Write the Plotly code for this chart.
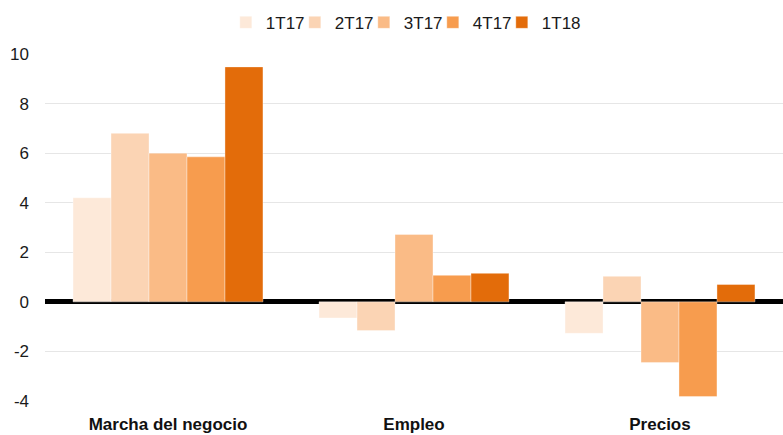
import plotly.graph_objects as go

categories = ["Marcha del negocio", "Empleo", "Precios"]
series_names = ["1T17", "2T17", "3T17", "4T17", "1T18"]
values_1T17 = [4.2, -0.65, -1.27]
values_2T17 = [6.8, -1.16, 1.03]
values_3T17 = [6.0, 2.72, -2.45]
values_4T17 = [5.85, 1.07, -3.82]
values_1T18 = [9.48, 1.15, 0.70]
y_ticks = [-4, -2, 0, 2, 4, 6, 8, 10]
y_tick_labels = ["-4", "-2", "0", "2", "4", "6", "8", "10"]

colors = ["#FDE9D9", "#FBD4B4", "#FABB86", "#F79C4E", "#E36C0A"]
series_values = [values_1T17, values_2T17, values_3T17, values_4T17, values_1T18]

fig = go.Figure()
for name, vals, col in zip(series_names, series_values, colors):
    fig.add_trace(go.Bar(
        name=name, x=categories, y=vals,
        marker=dict(color=col, line=dict(color="rgba(255,255,255,0.6)", width=0.6)),
    ))
# invisible legend spacer so the last legend label is not clipped
fig.add_trace(go.Scatter(x=[None], y=[None], mode="markers", name=" ",
                         marker=dict(color="rgba(0,0,0,0)"), hoverinfo="skip"))

font_family = "Liberation Sans, Arial, sans-serif"
fig.update_layout(
    width=783, height=435,
    margin=dict(l=45, r=0, t=54, b=34, autoexpand=False),
    paper_bgcolor="white", plot_bgcolor="white",
    barmode="group", bargap=0.228, bargroupgap=0,
    font=dict(family=font_family, size=17, color="#1a1a1a"),
    legend=dict(orientation="h", x=0.245, xanchor="left", y=1.09, yanchor="middle",
                font=dict(size=17, color="#1a1a1a"), itemwidth=30,
                entrywidth=24, entrywidthmode="pixels",
                traceorder="normal"),
    showlegend=True,
)
fig.update_yaxes(
    range=[-4, 10], tickvals=y_ticks, ticktext=y_tick_labels,
    showgrid=True, gridcolor="#e6e6e6", gridwidth=1,
    zeroline=True, zerolinecolor="black", zerolinewidth=5,
    showline=False, ticks="", ticklabelstandoff=15, automargin=False,
    tickfont=dict(size=17, color="#1a1a1a"),
)
fig.update_xaxes(
    showline=False, ticks="", showgrid=False, automargin=False,
    tickfont=dict(size=17, color="#111111", weight="bold"),
    ticklabelstandoff=11,
)

fig.write_html("out.html", config={"displayModeBar": False},
               post_script="document.body.style.margin='0';")
